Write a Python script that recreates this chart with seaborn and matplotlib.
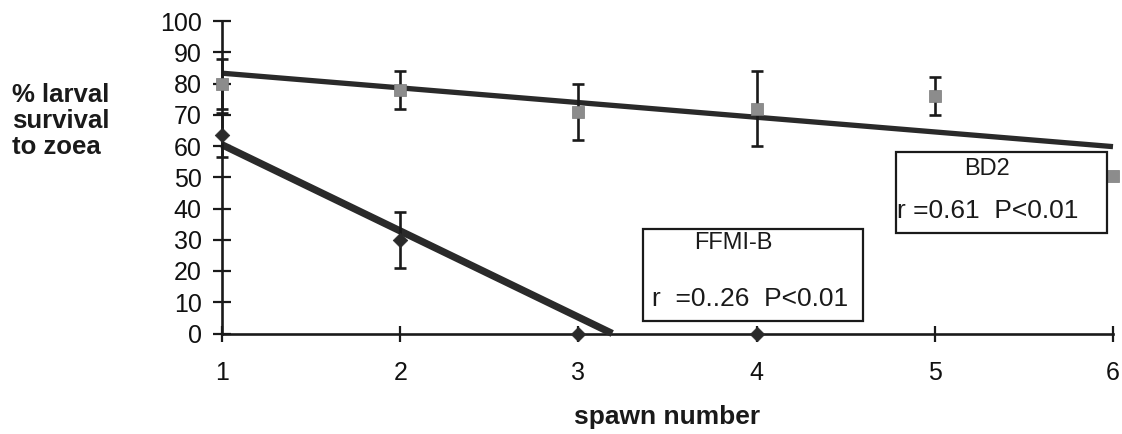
import numpy as np
import pandas as pd
import matplotlib
matplotlib.use("Agg")
import matplotlib.pyplot as plt
from matplotlib.patches import Rectangle
import seaborn as sns

# ---- data ----
spawn_bd2 = [1, 2, 3, 4, 5, 6]
surv_bd2 = [80, 78, 71, 72, 76, 50.5]
err_bd2 = [8, 6, 9, 12, 6, 0]

spawn_ffmi = [1, 2, 3, 4]
surv_ffmi = [63.5, 30, 0, 0]
err_ffmi = [7, 9, 0, 0]

trend_bd2_x = [1, 6]
trend_bd2_y = [83.3, 59.8]
trend_ffmi_x = [1, 3.19]
trend_ffmi_y = [60.4, 0]

x_ticks = [1, 2, 3, 4, 5, 6]
y_ticks = [0, 10, 20, 30, 40, 50, 60, 70, 80, 90, 100]

sns.set_theme(style="white")
plt.rcParams['font.family'] = ['Liberation Sans', 'DejaVu Sans']

fig = plt.figure(figsize=(11.22, 4.34), dpi=100)
ax = fig.add_axes([222 / 1122, (434 - 333.5) / 434, 891 / 1122, 312.5 / 434])

line_col = '#2a2a2a'

# trend lines
sns.lineplot(x=trend_bd2_x, y=trend_bd2_y, ax=ax, color=line_col, lw=3.8,
             solid_capstyle='butt', clip_on=False, zorder=3)
sns.lineplot(x=trend_ffmi_x, y=trend_ffmi_y, ax=ax, color=line_col, lw=5.2,
             solid_capstyle='butt', clip_on=False, zorder=3)

# error bars
bx = [x for x, e in zip(spawn_bd2, err_bd2) if e > 0]
by = [y for y, e in zip(surv_bd2, err_bd2) if e > 0]
be = [e for e in err_bd2 if e > 0]
ax.errorbar(bx, by, yerr=be, fmt='none', ecolor='#1a1a1a', elinewidth=1.9,
            capsize=4.5, capthick=1.9, zorder=4, clip_on=False)
fx = [x for x, e in zip(spawn_ffmi, err_ffmi) if e > 0]
fy = [y for y, e in zip(surv_ffmi, err_ffmi) if e > 0]
fe = [e for e in err_ffmi if e > 0]
ax.errorbar(fx, fy, yerr=fe, fmt='none', ecolor='#1a1a1a', elinewidth=1.9,
            capsize=4.5, capthick=1.9, zorder=4, clip_on=False)

# points
df_bd2 = pd.DataFrame({'spawn': spawn_bd2, 'surv': surv_bd2})
df_ffmi = pd.DataFrame({'spawn': spawn_ffmi, 'surv': surv_ffmi})
sns.scatterplot(data=df_bd2, x='spawn', y='surv', ax=ax, marker='s', s=80,
                color='#8c8c8c', edgecolor='#7a7a7a', linewidth=0.5,
                clip_on=False, zorder=5)
sns.scatterplot(data=df_ffmi, x='spawn', y='surv', ax=ax, marker='D', s=55,
                color='#2a2a2a', edgecolor='#2a2a2a', linewidth=0.5,
                clip_on=False, zorder=5)

ax.set_xlim(1, 6)
ax.set_ylim(0, 100)
ax.set_xticks(x_ticks)
ax.set_yticks(y_ticks)
ax.set_xticklabels([str(v) for v in x_ticks])
ax.set_yticklabels([str(v) for v in y_ticks])

for s in ['top', 'right']:
    ax.spines[s].set_visible(False)
for s in ['left', 'bottom']:
    ax.spines[s].set_color('#1a1a1a')
    ax.spines[s].set_linewidth(1.9)

ax.tick_params(axis='y', direction='inout', length=13, width=1.6,
               color='#1a1a1a', labelsize=18, pad=8, left=True)
ax.tick_params(axis='x', direction='inout', length=12, width=1.6,
               color='#1a1a1a', labelsize=18, pad=14, bottom=True)
for lab in ax.get_xticklabels() + ax.get_yticklabels():
    lab.set_color('#111111')

ax.set_xlabel('spawn number', fontsize=19, fontweight='bold', color='#1a1a1a')
ax.xaxis.set_label_coords(0.5, (333.5 - 417) / 312.5)
ax.xaxis.label.set_va('center')

ax.set_ylabel('% larval\nsurvival\nto zoea', fontsize=18.5, fontweight='bold',
              color='#1a1a1a', rotation=0, ha='left', va='center',
              multialignment='left', linespacing=1.12)
ax.yaxis.set_label_coords((12 - 222) / 891, (333.5 - 121) / 312.5)

# annotation boxes
ax.add_patch(Rectangle((3.363, 4.0), 4.597 - 3.363, 33.4 - 4.0, fill=False,
                       edgecolor='#1a1a1a', lw=1.6, clip_on=False, zorder=6))
ax.text(3.868, 29.0, 'FFMI-B', fontsize=17, ha='center', va='center', color='#1a1a1a')
ax.text(3.415, 11.0, 'r  =0..26  P<0.01', fontsize=19, ha='left', va='center', color='#1a1a1a')

ax.add_patch(Rectangle((4.782, 32.2), 5.966 - 4.782, 58.1 - 32.2, fill=False,
                       edgecolor='#1a1a1a', lw=1.6, clip_on=False, zorder=6))
ax.text(5.293, 52.6, 'BD2', fontsize=17, ha='center', va='center', color='#1a1a1a')
ax.text(4.79, 39.2, 'r =0.61  P<0.01', fontsize=19, ha='left', va='center', color='#1a1a1a')

fig.savefig('out.png', dpi=100)
